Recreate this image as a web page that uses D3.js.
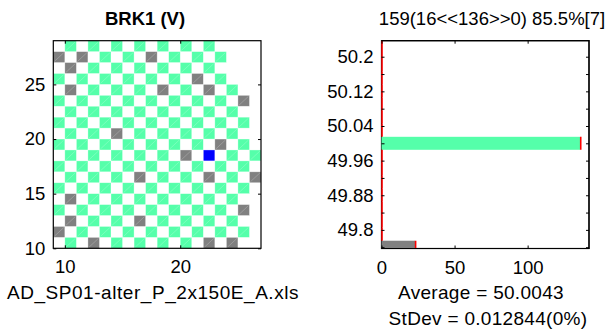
<!DOCTYPE html>
<html>
<head>
<meta charset="utf-8">
<script src="https://cdn.jsdelivr.net/npm/d3@7"></script>
<style>
  html, body { margin: 0; padding: 0; background: #fff; }
  svg { display: block; }
  text { font-family: "Liberation Sans", Arial, sans-serif; fill: #000; }
</style>
</head>
<body>
<svg id="chart" width="611" height="333"></svg>
<script>
// wafer map: one string per row, top row first (y = 28 .. 10), columns x = 9 .. 26
// '.' = empty, 'g' = in range, 'x' = out of range, 'b' = selected die
const mapRowsY = [28, 27, 26, 25, 24, 23, 22, 21, 20, 19, 18, 17, 16, 15, 14, 13, 12, 11, 10];
const mapColsX = [9, 10, 11, 12, 13, 14, 15, 16, 17, 18, 19, 20, 21, 22, 23, 24, 25, 26];
const mapRows = [
  '.g.g.g.g.g.g.g....',
  'x.x.g.g.x.g.g.g...',
  '.x.g.g.g.g.g.g....',
  'g.g.g.g.g.g.x.g...',
  '.x.g.g.g.x.g.x.g..',
  'g.g.g.g.g.g.g.g.x.',
  '.g.g.g.g.g.g.g.g..',
  'g.g.g.g.g.g.g.g.g.',
  '.g.g.x.g.g.g.g.g..',
  'g.g.g.g.g.g.g.x.g.',
  '.g.g.g.g.g.x.b.g.g',
  'g.g.g.g.g.g.g.g.g.',
  '.g.g.g.x.g.g.x.g.x',
  'g.g.g.g.g.g.g.g.g.',
  '.x.g.g.g.g.g.g.g..',
  'g.g.g.g.g.g.g.g.x.',
  '.x.g.g.x.g.g.g.g..',
  'x.g.g.g.g.g.g.g.g.',
  '.g.x.g.g.g.g.x.x..'
];
const mapXTicks = [10, 20];
const mapYTicks = [10, 15, 20, 25];

// histogram of BRK1 (V)
const binCenters = [49.76, 49.79, 49.82, 49.85, 49.88, 49.91, 49.94, 49.97, 50.00,
                    50.03, 50.06, 50.09, 50.12, 50.15, 50.18, 50.21, 50.24];
const binCounts  = [23, 0, 0, 0, 0, 0, 0, 0, 136, 0, 0, 0, 0, 0, 0, 0, 0];
const binWidth = 0.03;
const lowLimit = 49.775;
const histXTicks = [0, 50, 100];
const histYTicks = [49.76, 49.8, 49.84, 49.88, 49.92, 49.96, 50.0, 50.04, 50.08, 50.12, 50.16, 50.2];
const histYLabels = [49.8, 49.88, 49.96, 50.04, 50.12, 50.2];

const titleLeft = 'BRK1 (V)';
const titleRight = '159(16<<136>>0)  85.5%[7]';
const fileLabel = 'AD_SP01-alter_P_2x150E_A.xls';
const avgLabel = 'Average = 50.0043';
const sdLabel = 'StDev = 0.012844(0%)';

const colors = { g: '#55ffaa', x: '#808080', b: '#0000ff' };
const fontSize = 18.5;

const svg = d3.select('#chart');
svg.append('rect').attr('width', 611).attr('height', 333).attr('fill', '#fff');

// ---------- left: wafer map ----------
const L = { left: 53.3, right: 261, top: 40.7, bottom: 248.3 };
const mx = d3.scaleLinear().domain([9, 27]).range([L.left, L.right]);
const my = d3.scaleLinear().domain([10, 29]).range([L.bottom, L.top]);

const cells = [];
mapRows.forEach(function(row, r) {
  row.split('').forEach(function(ch, c) {
    if (ch !== '.') cells.push({ x: mapColsX[c], y: mapRowsY[r], k: ch });
  });
});

const gMap = svg.append('g');
gMap.append('rect')
  .attr('x', L.left).attr('y', L.top)
  .attr('width', L.right - L.left).attr('height', L.bottom - L.top)
  .attr('fill', '#fff');

gMap.selectAll('rect.cell')
  .data(cells)
  .enter()
  .append('rect')
  .attr('class', 'cell')
  .attr('x', d => mx(d.x))
  .attr('y', d => my(d.y + 1))
  .attr('width', d => mx(d.x + 1) - mx(d.x))
  .attr('height', d => my(d.y) - my(d.y + 1))
  .attr('fill', d => colors[d.k])
  .attr('stroke', 'rgba(255,255,255,0.55)')
  .attr('stroke-width', 0.6);

// faint diagonal seen on each patch
gMap.selectAll('line.diag')
  .data(cells.filter(d => d.k !== 'b'))
  .enter()
  .append('line')
  .attr('class', 'diag')
  .attr('x1', d => mx(d.x) + 1).attr('y1', d => my(d.y) - 1)
  .attr('x2', d => mx(d.x + 1) - 1).attr('y2', d => my(d.y + 1) + 1)
  .attr('stroke', 'rgba(255,255,255,0.35)')
  .attr('stroke-width', 0.6);

function styleAxis(g, withText) {
  g.select('.domain').remove();
  g.selectAll('.tick line').attr('stroke', '#000').attr('stroke-width', 1);
  if (withText) {
    g.selectAll('.tick text')
      .style('font-family', '"Liberation Sans", Arial, sans-serif')
      .style('font-size', fontSize + 'px')
      .attr('fill', '#000');
  } else {
    g.selectAll('.tick text').remove();
  }
}

gMap.append('g')
  .attr('transform', 'translate(0,' + L.bottom + ')')
  .call(d3.axisBottom(mx).tickValues(mapXTicks).tickSizeInner(-3).tickSizeOuter(0).tickPadding(12))
  .call(g => styleAxis(g, true));
gMap.append('g')
  .attr('transform', 'translate(0,' + L.top + ')')
  .call(d3.axisTop(mx).tickValues(mapXTicks).tickSizeInner(-3).tickSizeOuter(0))
  .call(g => styleAxis(g, false));
gMap.append('g')
  .attr('transform', 'translate(' + L.left + ',0)')
  .call(d3.axisLeft(my).tickValues(mapYTicks).tickSizeInner(-3).tickSizeOuter(0).tickPadding(8))
  .call(g => styleAxis(g, true));
gMap.append('g')
  .attr('transform', 'translate(' + L.right + ',0)')
  .call(d3.axisRight(my).tickValues(mapYTicks).tickSizeInner(-3).tickSizeOuter(0))
  .call(g => styleAxis(g, false));

gMap.append('rect')
  .attr('x', L.left).attr('y', L.top)
  .attr('width', L.right - L.left).attr('height', L.bottom - L.top)
  .attr('fill', 'none').attr('stroke', '#000').attr('stroke-width', 1.2);

// ---------- right: histogram ----------
const R = { left: 381.5, right: 589, top: 40.7, bottom: 248.5 };
const hx = d3.scaleLinear().domain([0, 142]).range([R.left, R.right]);
const hy = d3.scaleLinear().domain([49.757, 50.237]).range([R.bottom, R.top]);

const gHist = svg.append('g');
gHist.append('clipPath').attr('id', 'histClip')
  .append('rect')
  .attr('x', R.left - 2).attr('y', R.top)
  .attr('width', R.right - R.left + 4).attr('height', R.bottom - R.top);

gHist.append('rect')
  .attr('x', R.left).attr('y', R.top)
  .attr('width', R.right - R.left).attr('height', R.bottom - R.top)
  .attr('fill', '#fff').attr('stroke', '#000').attr('stroke-width', 1.2);

const bins = binCenters.map((c, i) => ({ c: c, n: binCounts[i] }));
const plot = gHist.append('g').attr('clip-path', 'url(#histClip)');

plot.selectAll('rect.bar')
  .data(bins.filter(d => d.n > 0))
  .enter()
  .append('rect')
  .attr('class', 'bar')
  .attr('x', hx(0))
  .attr('y', d => hy(d.c + binWidth / 2))
  .attr('width', d => hx(d.n) - hx(0))
  .attr('height', d => hy(d.c - binWidth / 2) - hy(d.c + binWidth / 2))
  .attr('fill', d => d.c < lowLimit ? colors.x : colors.g);

plot.selectAll('line.end')
  .data(bins)
  .enter()
  .append('line')
  .attr('class', 'end')
  .attr('x1', d => hx(d.n) + 0.5).attr('x2', d => hx(d.n) + 0.5)
  .attr('y1', d => hy(d.c + binWidth / 2))
  .attr('y2', d => hy(d.c - binWidth / 2))
  .attr('stroke', '#ff0000')
  .attr('stroke-width', 1.6);

gHist.append('g')
  .attr('transform', 'translate(0,' + R.bottom + ')')
  .call(d3.axisBottom(hx).tickValues(histXTicks).tickSizeInner(-3).tickSizeOuter(0).tickPadding(12))
  .call(g => styleAxis(g, true));
gHist.append('g')
  .attr('transform', 'translate(0,' + R.top + ')')
  .call(d3.axisTop(hx).tickValues(histXTicks).tickSizeInner(-3).tickSizeOuter(0))
  .call(g => styleAxis(g, false));
gHist.append('g')
  .attr('transform', 'translate(' + R.left + ',0)')
  .call(d3.axisLeft(hy).tickValues(histYTicks).tickSizeInner(-3).tickSizeOuter(0).tickPadding(8)
    .tickFormat(v => histYLabels.some(l => Math.abs(l - v) < 1e-6) ? d3.format('')(+v.toFixed(2)) : ''))
  .call(g => styleAxis(g, true));
gHist.append('g')
  .attr('transform', 'translate(' + R.right + ',0)')
  .call(d3.axisRight(hy).tickValues(histYTicks).tickSizeInner(-3).tickSizeOuter(0))
  .call(g => styleAxis(g, false));

// frame edges except the left one (red markers sit on it)
gHist.append('path')
  .attr('d', 'M' + R.left + ',' + R.top + 'H' + R.right + 'V' + R.bottom + 'H' + R.left)
  .attr('fill', 'none').attr('stroke', '#000').attr('stroke-width', 1.2);

// ---------- texts ----------
function label(x, y, txt, bold, size, spacing) {
  svg.append('text')
    .attr('x', x).attr('y', y)
    .attr('text-anchor', 'middle')
    .style('font-size', (size || fontSize) + 'px')
    .style('font-weight', bold ? 'bold' : 'normal')
    .style('letter-spacing', (spacing || 0) + 'px')
    .text(txt);
}
label(145, 25, titleLeft, true);
label(492, 25, titleRight, false);
label(153, 299, fileLabel, false, 19, 0.55);
label(481, 299, avgLabel, false, 19, 0.3);
label(488, 325, sdLabel, false, 19, 0.3);
</script>
</body>
</html>
